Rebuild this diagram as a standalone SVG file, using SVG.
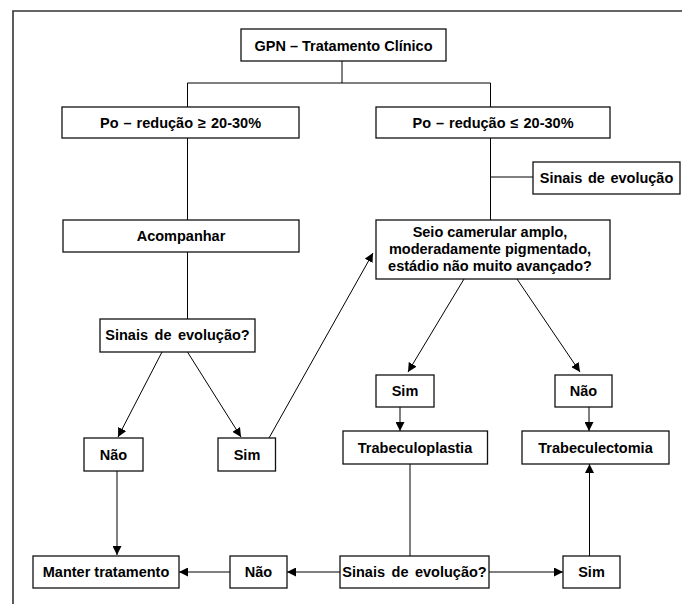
<svg xmlns="http://www.w3.org/2000/svg" width="682" height="604" viewBox="0 0 682 604">
<style>
.box{fill:#fff;stroke:#111;stroke-width:1.3}
.t{font-family:"Liberation Sans",Arial,sans-serif;font-weight:bold;font-size:14.5px;fill:#000;text-anchor:middle}
.ws{word-spacing:2.5px}
.c{fill:none;stroke:#000;stroke-width:1}
.a{fill:none;stroke:#000;stroke-width:1;marker-end:url(#ah)}
.frame{fill:none;stroke:#333;stroke-width:1.6}
</style>
<defs>
<marker id="ah" viewBox="0 0 10 10" refX="10" refY="5" markerWidth="9" markerHeight="9" markerUnits="userSpaceOnUse" orient="auto">
<path d="M0,0 L10,5 L0,10 z" fill="#000"/>
</marker>
</defs>
<rect width="682" height="604" fill="#fff"/>
<path class="frame" d="M13,604 L13,11 L682,11"/>
<g id="connectors">
<path class="c" d="M342,61 L342,83 M187.5,83 L490.5,83 M187.5,83 L187.5,107 M490.5,83 L490.5,107"/>
<path class="c" d="M187.5,138 L187.5,220 M187.5,252 L187.5,319"/>
<path class="c" d="M490.5,138 L490.5,220 M490.5,177 L533,177"/>
<path class="a" d="M162,352 L118,437"/>
<path class="a" d="M187.5,352 L241,437"/>
<path class="a" d="M269,438 L373,253"/>
<path class="a" d="M464,279 L408,372"/>
<path class="a" d="M517,279 L580,372"/>
<path class="a" d="M400,407 L400,431"/>
<path class="a" d="M589,407 L589,431"/>
<path class="c" d="M410,464 L410,556"/>
<path class="a" d="M589.5,556 L589.5,464"/>
<path class="a" d="M117,471 L117,555"/>
<path class="a" d="M489,572 L563,572"/>
<path class="a" d="M340,572 L287,572"/>
<path class="a" d="M230,572 L179,572"/>
</g>
<g id="gpn"><rect class="box" x="241" y="29" width="205" height="32"/><text class="t" x="343.5" y="51">GPN – Tratamento Clínico</text></g>
<g id="po-left"><rect class="box" x="62" y="107" width="237" height="31"/><text class="t" x="180.5" y="128" style="word-spacing:1px">Po – redução ≥ 20-30%</text></g>
<g id="po-right"><rect class="box" x="376" y="107" width="234" height="31"/><text class="t" x="493" y="128" style="word-spacing:1px">Po – redução ≤ 20-30%</text></g>
<g id="sinais-top"><rect class="box" x="533" y="162" width="147" height="32"/><text class="t" x="606.5" y="183" style="word-spacing:1.5px">Sinais de evolução</text></g>
<g id="acompanhar"><rect class="box" x="63" y="220" width="236" height="32"/><text class="t" x="181" y="241">Acompanhar</text></g>
<g id="seio"><rect class="box" x="376" y="220" width="234" height="59"/>
<text class="t" x="490" y="237">Seio camerular amplo,</text>
<text class="t" x="490" y="254">moderadamente pigmentado,</text>
<text class="t" x="490" y="271">estádio não muito avançado?</text></g>
<g id="sinais-left"><rect class="box" x="100" y="319" width="155" height="33"/><text class="t ws" x="177.5" y="340">Sinais de evolução?</text></g>
<g id="nao-left"><rect class="box" x="84" y="438" width="59" height="33"/><text class="t" x="113.5" y="460">Não</text></g>
<g id="sim-left"><rect class="box" x="218" y="438" width="57.5" height="33"/><text class="t" x="247" y="460">Sim</text></g>
<g id="sim-right"><rect class="box" x="376" y="375" width="58" height="32"/><text class="t" x="405" y="396">Sim</text></g>
<g id="nao-right"><rect class="box" x="555" y="375" width="57" height="32"/><text class="t" x="583.5" y="396">Não</text></g>
<g id="trabeculoplastia"><rect class="box" x="343" y="431" width="144.5" height="33"/><text class="t" x="415" y="453">Trabeculoplastia</text></g>
<g id="trabeculectomia"><rect class="box" x="522" y="431" width="147" height="33"/><text class="t" x="595.5" y="453">Trabeculectomia</text></g>
<g id="manter"><rect class="box" x="33" y="556" width="146" height="32"/><text class="t" x="106" y="577">Manter tratamento</text></g>
<g id="nao-bottom"><rect class="box" x="230" y="556" width="57" height="32"/><text class="t" x="258.5" y="577">Não</text></g>
<g id="sinais-bottom"><rect class="box" x="340" y="556" width="149" height="32"/><text class="t ws" x="414.5" y="577">Sinais de evolução?</text></g>
<g id="sim-bottom"><rect class="box" x="563" y="556" width="57" height="32"/><text class="t" x="591.5" y="577">Sim</text></g>
</svg>
